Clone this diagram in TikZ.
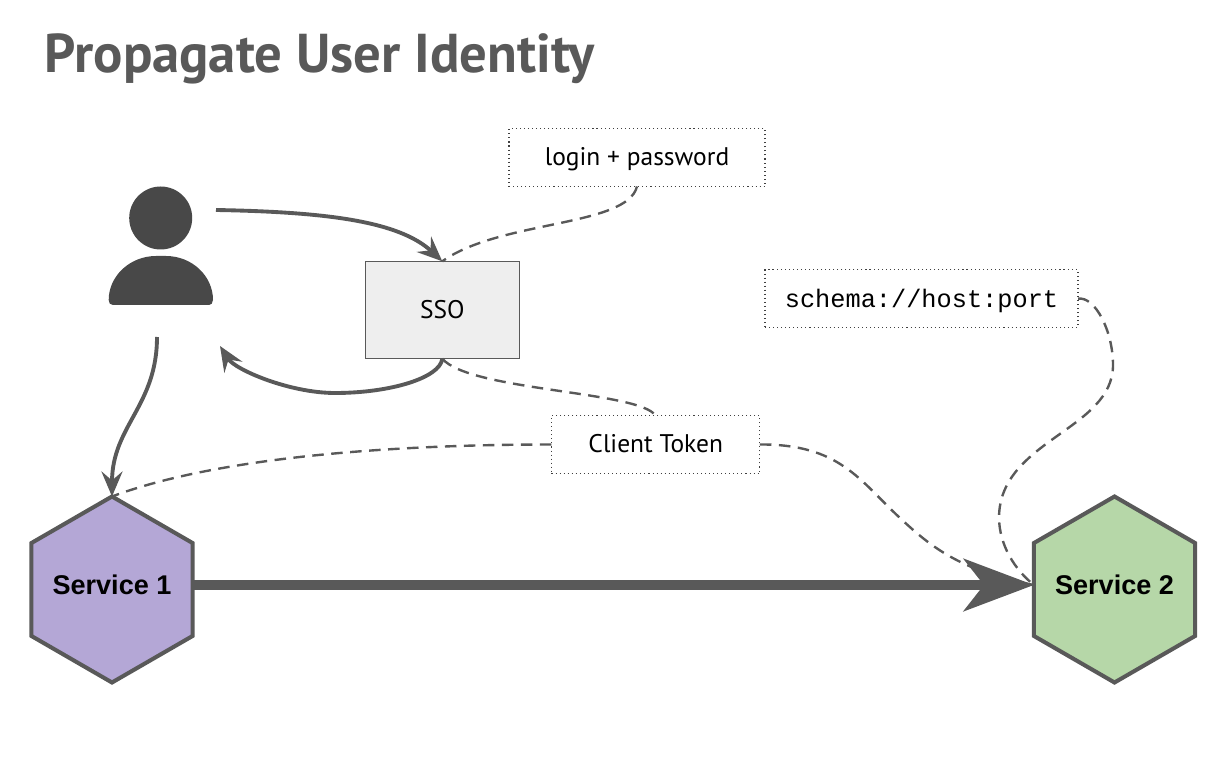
\documentclass[tikz,border=0pt]{standalone}
\usepackage{fontspec}
\setmainfont{PT Sans}
\setmonofont{Liberation Mono}
\newfontfamily\hexfont{Liberation Sans}
\usetikzlibrary{shapes.geometric}
\usetikzlibrary{arrows.meta}
\definecolor{linegray}{HTML}{595959}
\definecolor{icongray}{HTML}{484848}
\definecolor{ssofill}{HTML}{EEEEEE}
\definecolor{purplefill}{HTML}{B4A7D6}
\definecolor{greenfill}{HTML}{B6D7A8}
\newcommand{\hexlabel}[1]{\makebox[0pt]{#1}}
\tikzset{
  servicehex/.style={regular polygon,regular polygon sides=6,shape border rotate=30,minimum size=1.86cm,inner sep=0,outer sep=0,draw=linegray,line width=1.15pt,text height=.18cm,text depth=.09cm,font=\hexfont\bfseries\fontsize{7.7pt}{8pt}\selectfont},
  notebox/.style={draw=black!75,line width=.3pt,dash pattern=on .3pt off .85pt,minimum height=.575cm,inner sep=0,outer sep=0,text height=.2cm,text depth=.045cm,font=\fontsize{7.25pt}{8.5pt}\selectfont},
  flow/.style={draw=linegray,line width=1.1pt,-{Stealth[length=.25cm,width=.21cm,inset=.09cm]}},
  link/.style={draw=linegray,line width=.68pt,dash pattern=on .115cm off .075cm}
}
\begin{document}
\begin{tikzpicture}
\useasboundingbox (0,0) rectangle (12.3,7.56);

\node[anchor=base west,inner sep=0,text=linegray,font=\bfseries\fontsize{15.56pt}{17pt}\selectfont] (title) at (.44,6.83) {Propagate User Identity};

\fill[icongray] (1.607,5.38) circle (.315);
\fill[icongray] (1.087,4.56) .. controls (1.087,4.8) and (1.3,5) .. (1.56,5) -- (1.66,5) .. controls (1.92,5) and (2.13,4.8) .. (2.13,4.56) .. controls (2.13,4.53) and (2.11,4.51) .. (2.09,4.51) -- (1.13,4.51) .. controls (1.1,4.51) and (1.087,4.53) .. (1.087,4.56) -- cycle;
\coordinate (userout) at (2.16,5.46);
\coordinate (userback) at (2.2,4.1);
\coordinate (userdown) at (1.57,4.19);

\node[draw=linegray,line width=.3pt,fill=ssofill,minimum width=1.54cm,minimum height=.974cm,inner sep=0,outer sep=0,font=\fontsize{7.25pt}{8.5pt}\selectfont] (sso) at (4.423,4.46) {SSO};
\node[notebox,minimum width=2.56cm] (login) at (6.37,5.983) {login + password};
\node[notebox,minimum width=3.13cm,text height=.22cm,font=\ttfamily\fontsize{7.2pt}{8.5pt}\selectfont] (schema) at (9.215,4.573) {schema://host:port};
\node[notebox,minimum width=2.085cm] (token) at (6.557,3.115) {Client Token};

\node[servicehex,fill=purplefill] (service1) at (1.12,1.665) {\hexlabel{Service 1}};
\node[servicehex,fill=greenfill] (service2) at (11.145,1.665) {\hexlabel{Service 2}};

\draw[flow] (userout) .. controls (3.3,5.44) and (4,5.34) .. (sso.north);
\draw[flow] (sso.south) .. controls (4.4,3.78) and (3.9,3.63) .. (3.35,3.63) .. controls (2.9,3.63) and (2.35,3.86) .. (userback);
\draw[flow] (userdown) .. controls (1.57,3.5) and (1.12,3.3) .. (service1.north);

\draw[link] (login.south) .. controls (6.27,5.29) and (5,5.36) .. (sso.north);
\draw[link] (sso.south) .. controls (4.7,3.65) and (6.4,3.65) .. (token.north);
\draw[link] (token.west) .. controls (4,3.115) and (2.2,3) .. (service1.north);
\draw[link] (token.east) .. controls (8.4,3.12) and (8.6,2.75) .. (9,2.38) .. controls (9.3,2.1) and (9.6,1.85) .. ([yshift=.045cm]service2.west);
\draw[link] (schema.east) .. controls (10.95,4.6) and (11.13,4.25) .. (11.13,3.91) .. controls (11.13,3.26) and (10,3.16) .. (9.99,2.39) .. controls (9.99,2.11) and (10.15,1.86) .. ([yshift=.045cm]service2.west);

\draw[line width=3.1pt,draw=linegray,-{Stealth[length=.7cm,width=.52cm,inset=.2cm]}] ([yshift=.045cm]service1.east) -- ([yshift=.045cm]service2.west);
\end{tikzpicture}
\end{document}
